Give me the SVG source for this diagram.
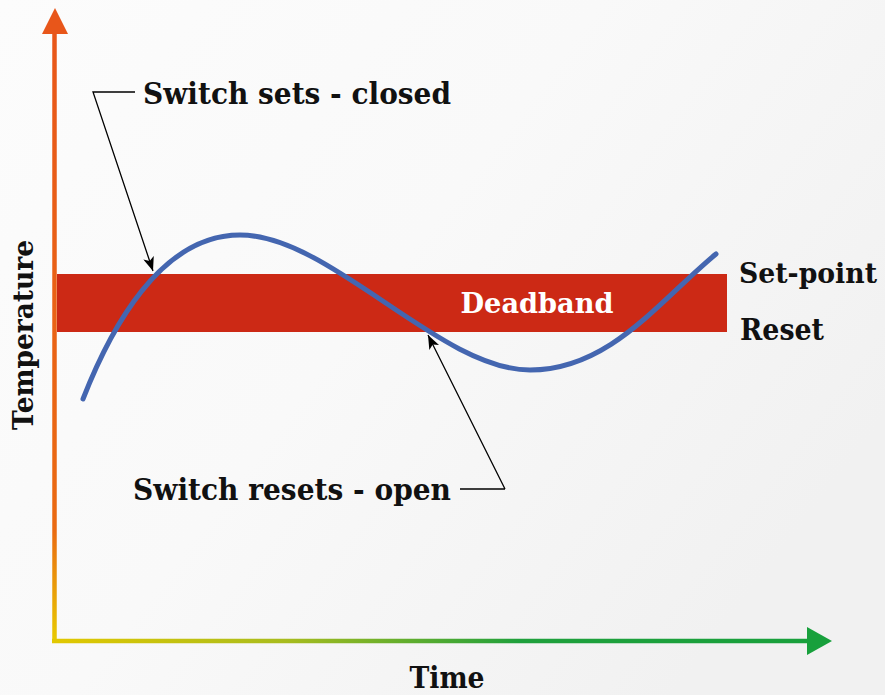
<svg xmlns="http://www.w3.org/2000/svg" width="885" height="695" viewBox="0 0 885 695">
<defs>
<linearGradient id="bg" x1="0" y1="0" x2="1" y2="0.6">
<stop offset="0" stop-color="#fcfcfc"/><stop offset="0.5" stop-color="#f9f9f9"/><stop offset="1" stop-color="#f1f1f1"/>
</linearGradient>
<linearGradient id="gv" gradientUnits="userSpaceOnUse" x1="0" y1="10" x2="0" y2="643">
<stop offset="0" stop-color="#e8561a"/><stop offset="0.82" stop-color="#ea6a12"/><stop offset="1" stop-color="#e8cc00"/>
</linearGradient>
<linearGradient id="gh" gradientUnits="userSpaceOnUse" x1="52" y1="0" x2="832" y2="0">
<stop offset="0" stop-color="#e2c800"/><stop offset="0.3" stop-color="#a8bc1e"/><stop offset="0.6" stop-color="#1fa03c"/><stop offset="1" stop-color="#18a03c"/>
</linearGradient>
<marker id="ah" markerWidth="14" markerHeight="11" refX="14" refY="5.5" orient="auto" markerUnits="userSpaceOnUse">
<path d="M0,0 L14,5.5 L0,11 L3.5,5.5 Z" fill="#000"/>
</marker>
<style>
.t{font-family:"DejaVu Serif","Liberation Serif",serif;font-weight:bold;fill:#111}
.c{fill:none;stroke:#000;stroke-width:1.3}
</style>
</defs>
<rect width="885" height="695" fill="url(#bg)"/>
<g id="axes">
<path d="M54.5,643 L54.5,32" stroke="url(#gv)" stroke-width="4.5" fill="none"/>
<polygon points="55,8 68,34 42,34" fill="#e8561a"/>
<path d="M52,641 L809,641" stroke="url(#gh)" stroke-width="4.5" fill="none"/>
<polygon points="832,641 807,627 807,655" fill="#18a03c"/>
</g>
<g id="deadband">
<rect x="57" y="274" width="670" height="58" fill="#cc2915"/>
<text class="t" x="537" y="313" text-anchor="middle" font-size="27" style="fill:#fff" textLength="153" lengthAdjust="spacingAndGlyphs">Deadband</text>
</g>
<g id="curve">
<path d="M83,399 C110,330 160,235 240,235 C330,235 440,370 530,370 C610,370 660,300 716,254" fill="none" stroke="#4466b0" stroke-width="5" stroke-linecap="round"/>
</g>
<g id="connectors">
<path class="c" d="M135,92 L93,92 L153,271" marker-end="url(#ah)"/>
<path class="c" d="M505,489 L460,489 M505,489 L428,335" marker-end="url(#ah)"/>
</g>
<g id="label-set">
<text class="t" x="143" y="104" font-size="29" textLength="308" lengthAdjust="spacingAndGlyphs">Switch sets - closed</text>
</g>
<g id="label-reset">
<text class="t" x="133" y="500" font-size="29" textLength="318" lengthAdjust="spacingAndGlyphs">Switch resets - open</text>
</g>
<g id="setpoint">
<text class="t" x="739" y="283" font-size="28" textLength="138" lengthAdjust="spacingAndGlyphs">Set-point</text>
</g>
<g id="reset">
<text class="t" x="740" y="340" font-size="29" textLength="84" lengthAdjust="spacingAndGlyphs">Reset</text>
</g>
<g id="time">
<text class="t" x="447" y="688" font-size="29" text-anchor="middle" textLength="75" lengthAdjust="spacingAndGlyphs">Time</text>
</g>
<g id="temperature">
<text class="t" transform="translate(33,335) rotate(-90)" x="0" y="0" font-size="28" text-anchor="middle" textLength="190" lengthAdjust="spacingAndGlyphs">Temperature</text>
</g>
</svg>
